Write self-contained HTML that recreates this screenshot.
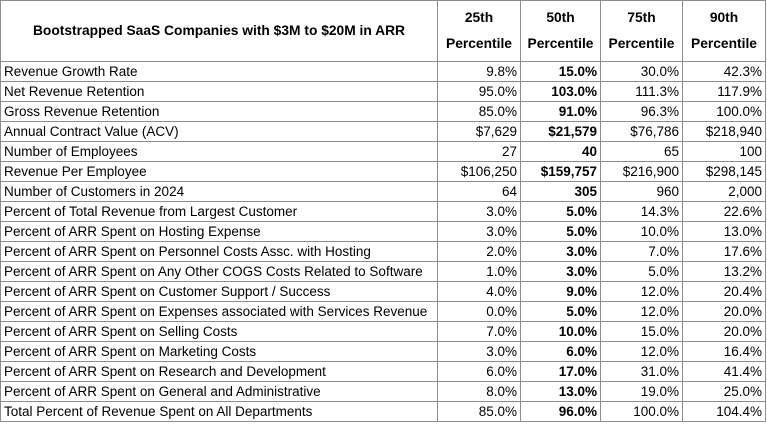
<!DOCTYPE html>
<html><head><style>
body{margin:0;background:#fff;width:767px;height:424px;overflow:hidden;font-family:"Liberation Sans",Arial,sans-serif;}
table{border-collapse:collapse;table-layout:fixed;position:absolute;left:0;top:0;}
td{border:1px solid #8c8c8c;font-size:13.5px;color:#000;height:19px;padding:0 3px;white-space:nowrap;overflow:hidden;line-height:19px;}
td.n{text-align:right;}
td.b{text-align:right;font-weight:bold;}
tr.h td{height:60px;font-weight:bold;text-align:center;line-height:26px;font-size:13.8px;}
</style></head><body>
<table>
<colgroup><col style="width:437px"><col style="width:83px"><col style="width:80px"><col style="width:82px"><col style="width:83px"></colgroup>
<tr class="h"><td>Bootstrapped SaaS Companies with $3M to $20M in ARR</td><td>25th<br>Percentile</td><td>50th<br>Percentile</td><td>75th<br>Percentile</td><td>90th<br>Percentile</td></tr>
<tr><td>Revenue Growth Rate</td><td class="n">9.8%</td><td class="b">15.0%</td><td class="n">30.0%</td><td class="n">42.3%</td></tr>
<tr><td>Net Revenue Retention</td><td class="n">95.0%</td><td class="b">103.0%</td><td class="n">111.3%</td><td class="n">117.9%</td></tr>
<tr><td>Gross Revenue Retention</td><td class="n">85.0%</td><td class="b">91.0%</td><td class="n">96.3%</td><td class="n">100.0%</td></tr>
<tr><td>Annual Contract Value (ACV)</td><td class="n">$7,629</td><td class="b">$21,579</td><td class="n">$76,786</td><td class="n">$218,940</td></tr>
<tr><td>Number of Employees</td><td class="n">27</td><td class="b">40</td><td class="n">65</td><td class="n">100</td></tr>
<tr><td>Revenue Per Employee</td><td class="n">$106,250</td><td class="b">$159,757</td><td class="n">$216,900</td><td class="n">$298,145</td></tr>
<tr><td>Number of Customers in 2024</td><td class="n">64</td><td class="b">305</td><td class="n">960</td><td class="n">2,000</td></tr>
<tr><td>Percent of Total Revenue from Largest Customer</td><td class="n">3.0%</td><td class="b">5.0%</td><td class="n">14.3%</td><td class="n">22.6%</td></tr>
<tr><td>Percent of ARR Spent on Hosting Expense</td><td class="n">3.0%</td><td class="b">5.0%</td><td class="n">10.0%</td><td class="n">13.0%</td></tr>
<tr><td>Percent of ARR Spent on Personnel Costs Assc. with Hosting</td><td class="n">2.0%</td><td class="b">3.0%</td><td class="n">7.0%</td><td class="n">17.6%</td></tr>
<tr><td>Percent of ARR Spent on Any Other COGS Costs Related to Software</td><td class="n">1.0%</td><td class="b">3.0%</td><td class="n">5.0%</td><td class="n">13.2%</td></tr>
<tr><td>Percent of ARR Spent on Customer Support / Success</td><td class="n">4.0%</td><td class="b">9.0%</td><td class="n">12.0%</td><td class="n">20.4%</td></tr>
<tr><td>Percent of ARR Spent on Expenses associated with Services Revenue</td><td class="n">0.0%</td><td class="b">5.0%</td><td class="n">12.0%</td><td class="n">20.0%</td></tr>
<tr><td>Percent of ARR Spent on Selling Costs</td><td class="n">7.0%</td><td class="b">10.0%</td><td class="n">15.0%</td><td class="n">20.0%</td></tr>
<tr><td>Percent of ARR Spent on Marketing Costs</td><td class="n">3.0%</td><td class="b">6.0%</td><td class="n">12.0%</td><td class="n">16.4%</td></tr>
<tr><td>Percent of ARR Spent on Research and Development</td><td class="n">6.0%</td><td class="b">17.0%</td><td class="n">31.0%</td><td class="n">41.4%</td></tr>
<tr><td>Percent of ARR Spent on General and Administrative</td><td class="n">8.0%</td><td class="b">13.0%</td><td class="n">19.0%</td><td class="n">25.0%</td></tr>
<tr><td>Total Percent of Revenue Spent on All Departments</td><td class="n">85.0%</td><td class="b">96.0%</td><td class="n">100.0%</td><td class="n">104.4%</td></tr>
</table>
</body></html>
